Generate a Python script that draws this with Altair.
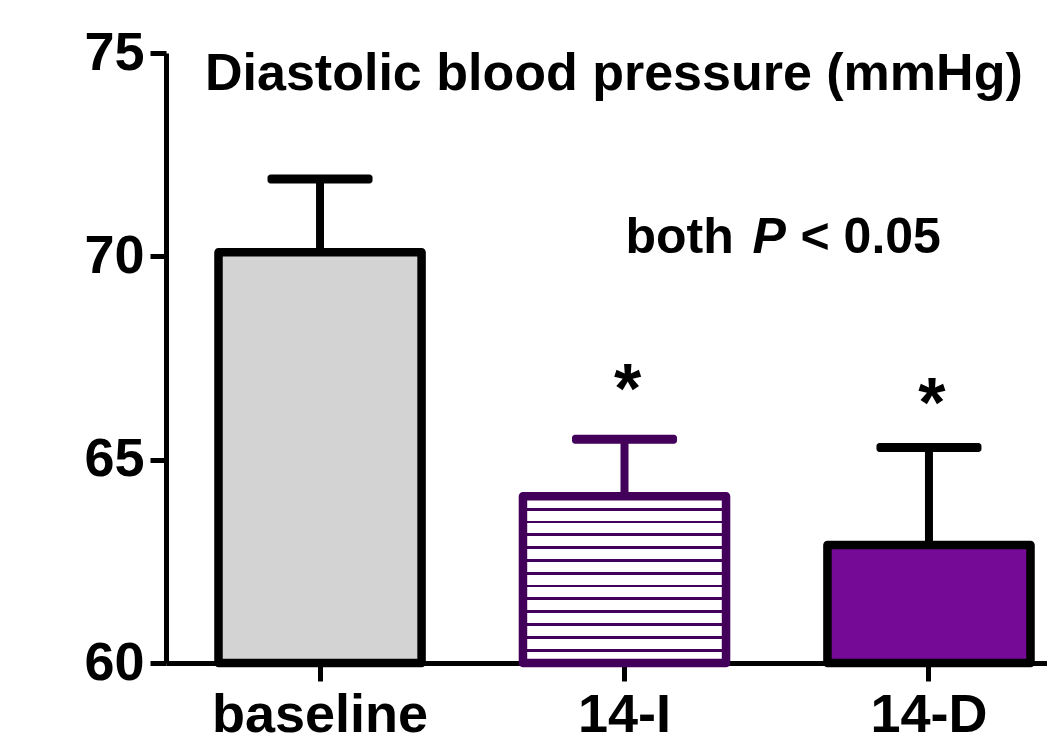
import altair as alt
import pandas as pd

# ---- data ----
groups = ["baseline", "14-I", "14-D"]
means = [70.1, 64.1, 62.9]
sems = [1.8, 1.4, 2.4]
fills = ["#d3d3d3", "#ffffff", "#750a97"]
strokes = ["#000000", "#43005a", "#000000"]
star_groups = ["14-I", "14-D"]
star_y = [66.15, 65.8]
y_ticks = [60, 65, 70, 75]

title_text = "Diastolic blood pressure (mmHg)"
title_y = 74.09
note_y = 70.08

FONT = "Liberation Sans"
PURPLE_DARK = "#43005a"

df = pd.DataFrame({
    "group": groups,
    "mean": means,
    "err_top": [m + s for m, s in zip(means, sems)],
    "fill": fills,
    "stroke": strokes,
})
stars = pd.DataFrame({"group": star_groups, "mean": star_y, "t": ["*"] * len(star_groups)})

xscale = alt.Scale(domain=groups, range=[0, 917], paddingInner=0.333, paddingOuter=0.1724)
yscale = alt.Scale(domain=[60, 75], nice=False, zero=False)

x_axis = alt.Axis(
    title=None, labelAngle=0, labelFont=FONT, labelFontSize=54, labelFontWeight="bold",
    labelColor="black", labelPadding=7, labelLimit=0, tickSize=18, tickWidth=5, tickColor="black",
    domainWidth=5, domainColor="black", grid=False,
)
y_axis = alt.Axis(
    title=None, values=y_ticks, format="d", labelFont=FONT, labelFontSize=54,
    labelFontWeight="bold", labelColor="black", labelPadding=6, labelLimit=0, tickSize=16, tickWidth=5,
    tickColor="black", domainWidth=5, domainColor="black", grid=False,
)

X = alt.X("group:N", sort=groups, scale=xscale, axis=x_axis, title=None)
Y = alt.Y("mean:Q", scale=yscale, axis=y_axis, title=None)

base = alt.Chart(df)

# stripes for the 14-I bar, drawn as a hard-stop gradient
stops = [alt.GradientStop(offset=0, color="#ffffff")]
n = 13
d = 0.0085
for k in range(1, n):
    o = k / n
    stops += [
        alt.GradientStop(offset=o - d, color="#ffffff"),
        alt.GradientStop(offset=o - d, color=PURPLE_DARK),
        alt.GradientStop(offset=o + d, color=PURPLE_DARK),
        alt.GradientStop(offset=o + d, color="#ffffff"),
    ]
stops.append(alt.GradientStop(offset=1, color="#ffffff"))
stripe = alt.Gradient(gradient="linear", stops=stops, x1=0, x2=0, y1=0, y2=1)

bars_solid = base.transform_filter(alt.datum.group != "14-I").mark_bar(
    strokeWidth=8.5, strokeJoin="round"
).encode(
    x=X, y=Y, y2=alt.datum(60),
    fill=alt.Fill("fill:N", scale=None),
    stroke=alt.Stroke("stroke:N", scale=None),
)

bars_striped = base.transform_filter(alt.datum.group == "14-I").mark_bar(
    fill=stripe, stroke=PURPLE_DARK, strokeWidth=8.5, strokeJoin="round"
).encode(x=X, y=Y, y2=alt.datum(60))

err_rule = base.mark_rule(strokeWidth=8).encode(
    x=X, y=Y, y2="err_top:Q",
    color=alt.Color("stroke:N", scale=None),
)

err_cap = base.mark_tick(size=105, thickness=9, cornerRadius=3, opacity=1).encode(
    x=X,
    y=alt.Y("err_top:Q", scale=yscale, axis=y_axis, title=None),
    color=alt.Color("stroke:N", scale=None),
)

star_layer = alt.Chart(stars).mark_text(
    font=FONT, fontSize=70, fontWeight="bold", color="black", baseline="alphabetic", align="center", dx=3
).encode(x=X, y=Y, text="t:N")

title_df = pd.DataFrame({"group": ["baseline"], "mean": [title_y], "t": [title_text]})
title_layer = alt.Chart(title_df).mark_text(
    font=FONT, fontSize=52, fontWeight="bold", color="black", align="left",
    baseline="alphabetic", dx=-115
).encode(x=X, y=Y, text="t:N")

note_parts = ["both", "P", "< 0.05"]
note_dx = [1, 128, 176]
note_style = ["normal", "italic", "normal"]
note_layers = []
for txt, dx, st in zip(note_parts, note_dx, note_style):
    ndf = pd.DataFrame({"group": ["14-I"], "mean": [note_y], "t": [txt]})
    note_layers.append(
        alt.Chart(ndf).mark_text(
            font=FONT, fontSize=50, fontWeight="bold", fontStyle=st, color="black",
            align="left", baseline="alphabetic", dx=dx
        ).encode(x=X, y=Y, text="t:N")
    )

chart = alt.layer(
    bars_solid, bars_striped, err_rule, err_cap, star_layer, title_layer, *note_layers
).properties(
    width=881, height=610,
    padding={"left": 158, "top": 45, "right": 0, "bottom": 78},
    autosize=alt.AutoSizeParams(type="none"),
).configure(
    background="white",
    view=alt.ViewConfig(stroke=None),
)

chart.save("out.html", embed_options={"renderer": "svg", "actions": False})
